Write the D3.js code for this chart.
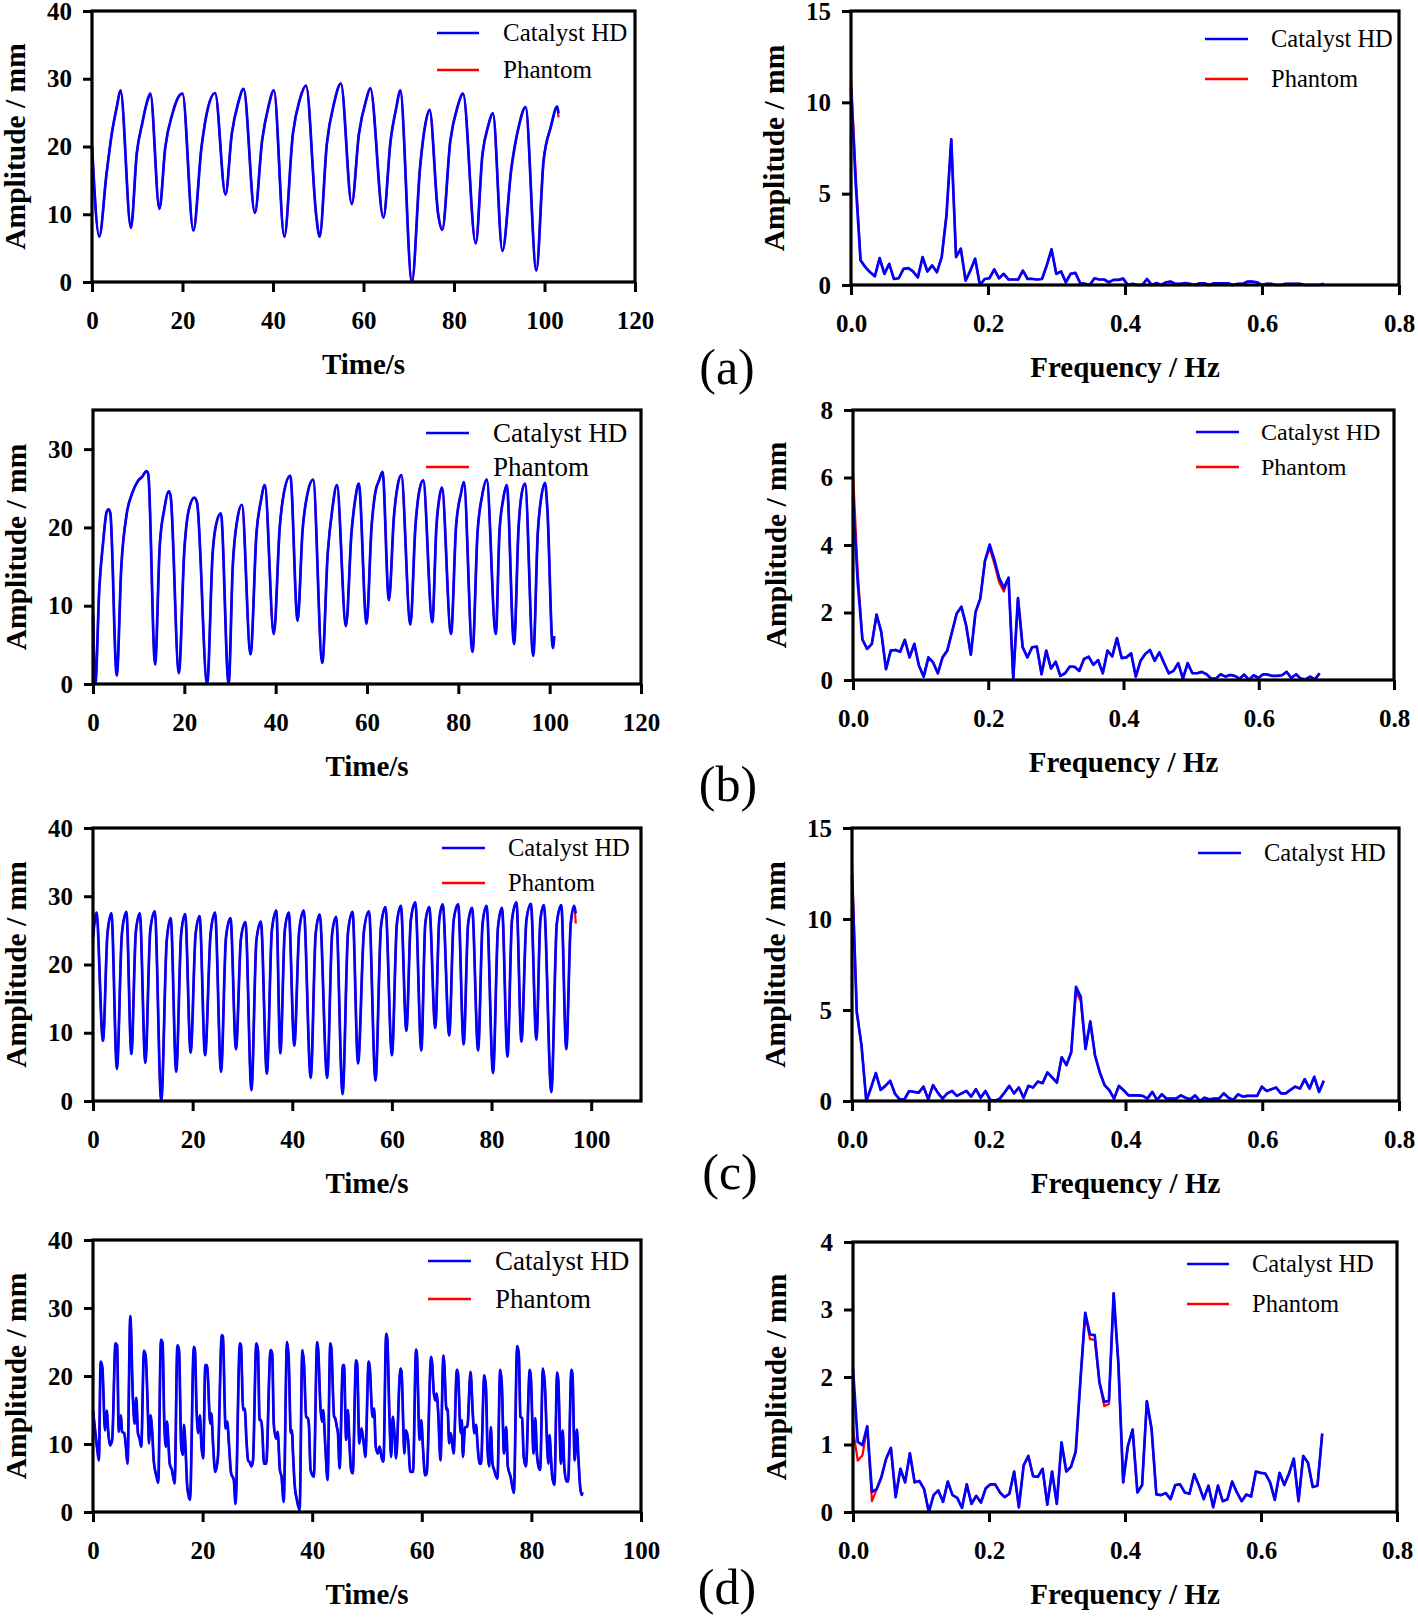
<!DOCTYPE html>
<html>
<head>
<meta charset="utf-8">
<script src="https://cdn.jsdelivr.net/npm/d3@7/dist/d3.min.js"></script>
<style>
  body { margin: 0; background: #fff; }
  svg text { font-family: "Liberation Serif", "Times New Roman", serif; fill: #000; }
</style>
</head>
<body>
<svg id="fig" width="1418" height="1617"></svg>
<script>
// ---------- tick values ----------
const timeTicks120 = [0, 20, 40, 60, 80, 100, 120];
const timeTicks100 = [0, 20, 40, 60, 80, 100];
const freqTicks = [0, 0.2, 0.4, 0.6, 0.8];
const ampTicks40 = [0, 10, 20, 30, 40];
const ampTicks35 = [0, 10, 20, 30];
const specTicks15 = [0, 5, 10, 15];
const specTicks8 = [0, 2, 4, 6, 8];
const specTicks4 = [0, 1, 2, 3, 4];

// ---------- (a) time series, [time s, amplitude mm] ----------
const catalystA = [[0,20.1],[1.6,6.7],[3.2,15.9],[4.4,22],[5.5,25.9],[6.3,28.3],[8.6,8.0],[9.9,19],[11.1,23.4],[12.3,26.9],[12.9,27.8],
  [14.9,10.8],[16.2,19.9],[17.8,24.9],[19.4,27.6],[20,27.8],[22.4,7.6],[24.2,19.9],[25.7,25.9],[27.2,27.9],[29.5,12.9],[30.9,21.9],
  [32.3,26.4],[33.5,28.5],[36,10.2],[37.6,20.9],[39,25.9],[40.2,28.3],[42.5,6.7],[44.4,21.9],[45.9,26.9],[47.3,29],[49.6,9.5],
  [50.3,6.7],[51.9,20.4],[53.5,26.4],[55,29.3],[57.4,11.5],[59,21.9],[60.6,26.9],[61.5,28.6],[64.4,9.5],[66,20.9],[67.3,25.9],
  [68.1,28.3],[70.7,0],[72.5,16.9],[73.7,23.4],[74.6,25.4],[76.5,10.0],[77.4,7.7],[79.2,20.9],[80.8,25.9],[82,27.8],[84.8,5.7],
  [86.3,18.9],[87.5,22.9],[88.6,24.9],[90.7,4.6],[92.7,16.9],[94.3,22.9],[95.8,25.8],[98.2,1.7],[99.8,17.9],[101.4,22.9],
  [102.8,25.9],[103.1,24.9]];
const phantomEditsA = [[103.1, 24.3]];

// ---------- (b) time series ----------
const catalystB = [[0,8.9],[0.5,0],[1.4,12.4],[2.2,18],[3.0,22],[3.4,22.3],[3.8,21.8],[5.2,1.1],[6.2,15],[7.4,21.8],[8.6,24.4],
  [9.8,25.9],[10.8,26.5],[11.7,27.2],[12.1,26.8],[13.6,2.5],[14.6,17.5],[15.6,22.3],[16.6,24.6],[17.0,24],[18.8,1.4],[20,17.1],
  [21,22.3],[22.2,23.8],[22.8,23.1],[25,0],[26.2,16.7],[27,20.5],[28,21.8],[29.7,0],[30.6,15],[31.6,21],[32.6,22.9],[34.5,3.8],
  [35.8,19.3],[36.8,23.5],[37.6,25.4],[39.6,6.4],[40.9,20.1],[41.8,24.4],[43.2,26.6],[44.8,8.1],[45.9,19.7],[47,24.4],[48.2,26.1],
  [50.2,2.7],[51.4,16.7],[52.4,22.3],[53.4,25.4],[55.4,7.4],[56.6,19.3],[57.4,23.5],[58.2,25.6],[59.9,7.7],[61,20.1],[61.8,24.4],
  [62.7,26.1],[63.4,27.1],[64.8,10.7],[65.9,21.4],[66.7,25.3],[67.5,26.7],[69.5,7.6],[70.6,20.1],[71.5,24.8],[72.3,26],[74.3,7.9],
  [75.2,20.1],[75.9,24],[76.4,25.1],[78.4,6.4],[79.5,20.1],[80.6,24.4],[81.2,25.8],[83.1,4.1],[84.2,19.3],[85.2,24],[86.2,26.1],
  [88.2,6.4],[89,19.3],[89.8,23.5],[90.6,25.4],[92.2,5.1],[93.2,20.1],[93.9,24.4],[94.6,25.6],[96.4,3.6],[97.4,19.3],[98.2,24],
  [99,25.7],[99.5,22.3],[100.7,4.6],[101,6.1]];
const phantomEditsB = [[0, 10]];

// ---------- (c) time series ----------
const catalystC = [[0,24],[0.7,27.6],[2.0,8.8],[2.9,24.5],[3.7,27.5],[4.8,4.7],[5.8,24.5],[6.7,27.7],[7.7,6.9],[8.6,24.8],[9.4,27.5],
  [10.5,5.6],[11.5,25],[12.4,27.8],[13.7,0],[14.8,23.5],[15.6,26.8],[16.7,4.3],[17.7,24.5],[18.5,27.4],[19.6,7.1],[20.6,24.5],
  [21.4,27.1],[22.5,6.7],[23.6,24.5],[24.5,27.6],[25.7,4.3],[26.7,24],[27.6,26.8],[28.7,7.6],[29.7,23.8],[30.6,26.2],[31.8,1.6],
  [32.8,23.5],[33.7,26.3],[34.9,4.0],[35.9,25],[36.8,27.9],[37.6,7.0],[38.5,25],[39.3,27.6],[40.4,8.1],[41.4,25],[42.3,27.9],
  [43.7,3.4],[44.7,24.5],[45.5,27.3],[47.0,3.4],[48.0,24.5],[48.8,27],[50.1,1.0],[51.2,24.8],[52.1,27.7],[53.2,5.5],[54.4,25],
  [55.4,27.8],[56.7,3.0],[57.8,25.5],[58.7,28.4],[60.0,6.7],[61.0,26],[61.8,28.6],[62.9,10.3],[63.8,26.5],[64.7,29.1],[65.9,7.4],
  [66.7,26],[67.5,28.4],[68.7,10.7],[69.5,26.5],[70.2,28.8],[71.5,9.6],[72.4,26.5],[73.3,28.8],[74.4,8.3],[75.3,26],[76.1,28.3],
  [77.3,7.4],[78.2,26],[79.0,28.6],[80.3,4.1],[81.3,25.5],[82.1,28.3],[83.2,6.5],[84.1,26.5],[85.0,29.1],[86.0,8.7],[87.0,26.5],
  [87.9,28.9],[89.0,9.0],[89.8,26.5],[90.5,28.7],[92.0,1.3],[93.1,26],[94.0,28.7],[95.0,7.6],[95.9,26],[96.6,28.6],[96.9,27.5]];
const phantomEditsC = [[96.9, 26]];

// ---------- (d) time series ----------
const catalystD = [[0,15],[0.8,9.1],[1.07,7.6],[1.4,22.1],[1.7,21.3],[2.2,12],[2.5,14.9],[2.8,11.6],[3.1,9.8],[3.5,10.6],[4.1,24.8],
  [4.4,24.5],[4.7,11.8],[5.1,14.2],[5.3,11.8],[5.7,11.6],[6.0,9.6],[6.3,7.1],[6.8,28.8],[7.3,16.4],[7.6,13],[7.9,16.8],[8.2,11.6],
  [8.5,10.8],[8.8,9.6],[9.3,23.7],[9.6,23],[10.1,12.5],[10.2,10.1],[10.5,14.2],[10.8,11.8],[11.1,7.4],[11.6,5.2],[11.9,4.3],
  [12.4,25.3],[12.7,24.8],[13.0,13.5],[13.3,9.6],[13.5,13.3],[13.8,9.6],[14.0,7.1],[14.4,6.2],[14.9,4.2],[15.4,24.5],[15.7,23.8],
  [16.1,9.6],[16.4,8.4],[16.6,12.8],[16.9,9.1],[17.2,3.7],[17.7,1.8],[18.4,24.3],[18.6,23.8],[18.9,15],[19.2,11.6],[19.5,14.2],
  [19.8,9.6],[20.1,7.9],[20.5,21.6],[20.8,21.6],[21.4,13],[21.6,14.5],[21.9,10.1],[22.3,5.9],[22.8,8.1],[23.5,26],[23.7,25.8],
  [24.2,12.3],[24.5,13.3],[24.8,10.1],[25.2,5.7],[25.7,4.7],[26.0,1.2],[26.8,24.8],[27.0,24.5],[27.4,15],[27.7,15.2],[28.0,10.6],
  [28.3,7.6],[28.6,7.3],[28.9,6.7],[29.2,7.6],[29.8,24.8],[30.1,23.8],[30.4,13.5],[30.7,13.5],[30.9,11.8],[31.2,7.1],[31.6,7.1],
  [32.4,23.8],[32.7,23.3],[33.0,12.8],[33.4,10.8],[33.7,11.8],[34.1,6.2],[34.4,5.2],[34.8,1.5],[35.4,25],[35.7,22.8],[36.1,11.6],
  [36.3,12],[36.5,8.6],[36.8,4],[37.2,1.8],[37.7,0.3],[38.2,23.8],[38.5,21.8],[38.9,14],[39.2,13.8],[39.4,12.8],[39.7,6.2],
  [40.3,5.2],[40.9,25],[41.1,23.8],[41.5,15.5],[41.8,13.3],[42.0,15],[42.4,9.6],[42.8,4.7],[43.3,24.8],[43.5,24],[44.0,14],
  [44.2,13.8],[44.5,12.5],[44.7,11.6],[45.0,6.4],[45.6,21.6],[45.8,21.6],[46.2,10.6],[46.5,15],[46.8,10.1],[47.1,6.2],[47.4,5.7],
  [48.0,22.3],[48.2,21.8],[48.6,10.1],[49.0,12.3],[49.4,10.1],[49.7,8.1],[50.3,22.1],[50.5,21.3],[51.0,14],[51.3,15.2],[51.6,9.6],
  [52.0,8.6],[52.3,9.6],[52.7,7.9],[53.0,7.4],[53.5,26.2],[53.7,25.5],[54.1,14],[54.4,8.1],[54.7,14],[55.0,11.6],[55.3,7.9],
  [56.1,21.1],[56.3,20.6],[56.7,10.6],[56.8,8.6],[57.1,12],[57.5,10.6],[57.9,5.9],[58.4,5.9],[58.95,23.9],[59.1,23.3],[59.6,10.6],
  [59.9,13.5],[60.2,9.6],[60.6,5.4],[60.9,5.7],[61.7,22.8],[61.9,21.8],[62.2,17.4],[62.5,16.4],[62.7,17.4],[63.0,14.5],[63.4,7.6],
  [63.95,23],[64.1,21.8],[64.5,15],[64.7,15.2],[65.0,10.1],[65.3,11.6],[65.8,8.6],[66.4,20.9],[66.6,20.4],[67.1,11.6],[67.3,13.5],
  [67.5,8.1],[67.9,12.5],[68.3,12.5],[68.9,20.6],[69.3,14.5],[69.6,11.6],[69.9,12.8],[70.2,9.6],[70.5,7.1],[70.8,7.1],[71.4,20.1],
  [71.7,18.4],[72.0,9.1],[72.3,6.7],[72.6,12.5],[72.9,7.1],[73.2,6.2],[73.8,4.9],[74.3,20.9],[74.6,18.8],[75.0,8.6],[75.4,12.5],
  [75.7,6.7],[76.2,5.2],[76.8,2.8],[77.4,24.4],[77.7,23.3],[78.0,14],[78.3,13.8],[78.6,8.1],[79.0,6.7],[79.7,20.9],[79.9,19.8],
  [80.4,8.6],[80.7,13.8],[81.0,8.6],[81.3,6.7],[81.6,6.2],[82.1,21.1],[82.4,19.4],[83.1,7.1],[83.3,11.3],[83.6,7.6],[83.8,5.2],
  [84.2,4],[84.7,20.5],[84.9,19.4],[85.4,7.1],[85.7,12],[86.0,6.7],[86.4,4.5],[86.7,4.5],[87.3,20.9],[87.5,20.2],[87.9,7.6],
  [88.3,12.1],[88.6,7.6],[88.9,3.7],[89.2,2.5],[89.3,2.9]];
const phantomEditsD = [];

// ---------- spectra: amplitude per frequency bin ----------
const freqStep = 0.00697; // Hz between bins
const spectrumA = [10.8,5.5,1.35,0.98,0.7,0.48,1.47,0.61,1.16,0.33,0.37,0.88,0.92,0.74,0.41,1.53,0.74,1.07,0.7,1.53,
  3.83,7.98,1.53,1.99,0.24,0.79,1.44,0,0.33,0.37,0.85,0.37,0.61,0.3,0.3,0.3,0.79,0.33,0.33,0.3,
  0.33,1.07,1.95,0.61,0.74,0.15,0.61,0.66,0.11,0.06,0,0.37,0.3,0.3,0.15,0.28,0.28,0.35,0,0.06,
  0,0,0.33,0,0.11,0,0.15,0.18,0.06,0.06,0.11,0.06,0,0.09,0.09,0,0.09,0.09,0.09,0.09,
  0,0.06,0.06,0.18,0.18,0.15,0,0.06,0.06,0,0,0.06,0.06,0.06,0.06,0,0,0,0,0.06];
const spectrumEditsA = [[0, 11.4], [1, 6.0]];

const spectrumB = [5.41,2.9,1.2,0.92,1.07,1.94,1.42,0.32,0.87,0.89,0.84,1.19,0.67,1.07,0.42,0.1,0.67,0.52,0.2,0.67,
  0.87,1.42,1.97,2.17,1.62,0.75,2.01,2.41,3.53,4.01,3.56,3.03,2.73,3.03,0.04,2.43,0.97,0.67,0.97,0.99,
  0.17,0.87,0.34,0.54,0.12,0.2,0.4,0.39,0.27,0.62,0.69,0.45,0.59,0.2,0.87,0.7,1.24,0.65,0.67,0.79,
  0.1,0.57,0.77,0.89,0.57,0.82,0.5,0.2,0.27,0.5,0.04,0.5,0.2,0.2,0.24,0.17,0.04,0.04,0.17,0.1,
  0.15,0.12,0.04,0.16,0,0.14,0.06,0.17,0.16,0.12,0.12,0.14,0.24,0.06,0.17,0.04,0.02,0.1,0.02,0.2];
const spectrumEditsB = [[0, 6.15], [1, 3.2], [29, 3.9], [30, 3.45], [31, 2.9], [32, 2.62]];

const spectrumC = [12.45,4.89,3.04,0,0.74,1.53,0.61,0.83,1.11,0.41,0.09,0.09,0.55,0.5,0.46,0.79,0.09,0.87,0.46,0.13,
  0.42,0.55,0.28,0.42,0.55,0.24,0.65,0.18,0.55,0.06,0,0.13,0.46,0.83,0.42,0.74,0.18,0.83,0.74,1.07,
  0.98,1.57,1.29,1.01,2.4,1.97,2.68,6.27,5.72,2.86,4.37,2.49,1.57,0.87,0.59,0.13,0.83,0.59,0.31,0.31,
  0.31,0.28,0.13,0.5,0.06,0.37,0.13,0.13,0.13,0.31,0.18,0.09,0.31,0,0.18,0.09,0.13,0.13,0.42,0.18,
  0.06,0.37,0.24,0.28,0.28,0.28,0.79,0.55,0.65,0.74,0.42,0.42,0.61,0.79,0.68,1.2,0.68,1.33,0.5,1.11];
const spectrumEditsC = [[0, 13.05], [47, 6.0], [48, 5.5]];

const spectrumD = [2.12,1.04,0.99,1.27,0.3,0.34,0.52,0.79,0.95,0.22,0.64,0.44,0.87,0.44,0.46,0.34,0,0.25,0.32,0.15,
  0.45,0.25,0.21,0.06,0.41,0.12,0.24,0.14,0.35,0.41,0.41,0.29,0.22,0.27,0.6,0.07,0.69,0.83,0.53,0.52,
  0.64,0.11,0.6,0.12,1.03,0.6,0.67,0.9,1.97,2.95,2.63,2.62,1.92,1.63,1.65,3.24,2.19,0.44,0.98,1.22,
  0.29,0.4,1.64,1.23,0.26,0.25,0.28,0.19,0.4,0.41,0.29,0.27,0.56,0.39,0.19,0.39,0.07,0.39,0.16,0.19,
  0.45,0.29,0.16,0.26,0.23,0.6,0.58,0.57,0.44,0.18,0.58,0.4,0.57,0.79,0.16,0.83,0.73,0.37,0.39,1.16];
const spectrumEditsD = [[0, 1.23], [1, 0.76], [2, 0.84], [4, 0.16], [50, 2.56], [51, 2.55], [53, 1.57], [54, 1.6]];

const seriesNames = ['Catalyst HD', 'Phantom'];
const panelLetters = ['(a)', '(b)', '(c)', '(d)'];

// ---------- helpers ----------
const BLUE = '#0000ff', RED = '#ff0000';
const svg = d3.select('#fig');

// Phantom curve: same samples as Catalyst HD except where the red trace is visibly different
function editTime(points, edits) {
  const m = new Map(edits);
  return points.map(d => m.has(d[0]) ? [d[0], m.get(d[0])] : d);
}
function spectrumPoints(values, edits) {
  const m = new Map(edits || []);
  return values.map((v, i) => [i * freqStep, m.has(i) ? m.get(i) : v]);
}

function drawPanel(p) {
  const g = svg.append('g');
  const x = d3.scaleLinear().domain(p.xDomain).range([p.x0, p.x1]);
  const y = d3.scaleLinear().domain(p.yDomain).range([p.y1, p.y0]);

  const line = d3.line().x(d => x(d[0])).y(d => y(d[1])).curve(p.curve);
  g.append('path').datum(p.phantom).attr('d', line)
    .attr('fill', 'none').attr('stroke', RED).attr('stroke-width', 2.2).attr('stroke-linejoin', 'round');
  g.append('path').datum(p.catalyst).attr('d', line)
    .attr('fill', 'none').attr('stroke', BLUE).attr('stroke-width', 2.7).attr('stroke-linejoin', 'round');

  // axes
  const xAxis = g.append('g').attr('transform', `translate(0,${p.y1})`)
    .call(d3.axisBottom(x).tickValues(p.xTicks).tickFormat(p.xFmt).tickSize(10).tickSizeOuter(0).tickPadding(19));
  const yAxis = g.append('g').attr('transform', `translate(${p.x0},0)`)
    .call(d3.axisLeft(y).tickValues(p.yTicks).tickFormat(d3.format('d')).tickSize(9).tickSizeOuter(0).tickPadding(11));
  [xAxis, yAxis].forEach(a => {
    a.selectAll('.domain').remove();
    a.selectAll('line').attr('stroke', '#000').attr('stroke-width', 3);
    a.selectAll('text').attr('font-size', 25).attr('font-weight', 'bold')
      .attr('font-family', '"Liberation Serif", serif').attr('fill', '#000');
  });

  // frame
  g.append('rect').attr('x', p.x0).attr('y', p.y0)
    .attr('width', p.x1 - p.x0).attr('height', p.y1 - p.y0)
    .attr('fill', 'none').attr('stroke', '#000').attr('stroke-width', 3.2);

  // titles
  g.append('text').attr('x', (p.x0 + p.x1) / 2).attr('y', p.y1 + 92)
    .attr('text-anchor', 'middle').attr('font-size', 29).attr('font-weight', 'bold').text(p.xTitle);
  g.append('text')
    .attr('transform', `translate(${p.x0 - 67},${(p.y0 + p.y1) / 2}) rotate(-90)`)
    .attr('text-anchor', 'middle').attr('font-size', 29.5).attr('font-weight', 'bold').text('Amplitude / mm');

  // legend
  const L = p.legend;
  L.names.forEach((name, i) => {
    const ly = L.ys[i];
    g.append('line').attr('x1', L.lx0).attr('x2', L.lx1).attr('y1', ly).attr('y2', ly)
      .attr('stroke', i === 0 ? BLUE : RED).attr('stroke-width', 2.4);
    g.append('text').attr('x', L.tx).attr('y', ly + L.size * 0.33)
      .attr('font-size', L.size).text(name);
  });
}

const timeFmt = d3.format('d');
const freqFmt = d3.format('.1f');

const panels = [
  { x0: 92, x1: 635, y0: 11, y1: 282, xDomain: [0, 120], yDomain: [0, 40], xTicks: timeTicks120, yTicks: ampTicks40,
    xFmt: timeFmt, xTitle: 'Time/s', curve: d3.curveMonotoneX,
    catalyst: catalystA, phantom: editTime(catalystA, phantomEditsA),
    legend: { names: seriesNames, lx0: 437, lx1: 479, ys: [33, 70], tx: 503, size: 25 } },
  { x0: 851, x1: 1399, y0: 11, y1: 285, xDomain: [0, 0.8], yDomain: [0, 15], xTicks: freqTicks, yTicks: specTicks15,
    xFmt: freqFmt, xTitle: 'Frequency / Hz', curve: d3.curveLinear,
    catalyst: spectrumPoints(spectrumA), phantom: spectrumPoints(spectrumA, spectrumEditsA),
    legend: { names: seriesNames, lx0: 1205, lx1: 1248, ys: [39, 79], tx: 1271, size: 24.5 } },
  { x0: 93, x1: 641, y0: 410, y1: 684, xDomain: [0, 120], yDomain: [0, 35], xTicks: timeTicks120, yTicks: ampTicks35,
    xFmt: timeFmt, xTitle: 'Time/s', curve: d3.curveMonotoneX,
    catalyst: catalystB, phantom: editTime(catalystB, phantomEditsB),
    legend: { names: seriesNames, lx0: 426, lx1: 469, ys: [433, 467], tx: 493, size: 27 } },
  { x0: 853, x1: 1394, y0: 410, y1: 680, xDomain: [0, 0.8], yDomain: [0, 8], xTicks: freqTicks, yTicks: specTicks8,
    xFmt: freqFmt, xTitle: 'Frequency / Hz', curve: d3.curveLinear,
    catalyst: spectrumPoints(spectrumB), phantom: spectrumPoints(spectrumB, spectrumEditsB),
    legend: { names: seriesNames, lx0: 1196, lx1: 1239, ys: [432, 467], tx: 1261, size: 24 } },
  { x0: 93, x1: 641, y0: 828, y1: 1101, xDomain: [0, 110], yDomain: [0, 40], xTicks: timeTicks100, yTicks: ampTicks40,
    xFmt: timeFmt, xTitle: 'Time/s', curve: d3.curveMonotoneX,
    catalyst: catalystC, phantom: editTime(catalystC, phantomEditsC),
    legend: { names: seriesNames, lx0: 442, lx1: 485, ys: [848, 883], tx: 508, size: 24.5 } },
  { x0: 852, x1: 1399, y0: 828, y1: 1101, xDomain: [0, 0.8], yDomain: [0, 15], xTicks: freqTicks, yTicks: specTicks15,
    xFmt: freqFmt, xTitle: 'Frequency / Hz', curve: d3.curveLinear,
    catalyst: spectrumPoints(spectrumC), phantom: spectrumPoints(spectrumC, spectrumEditsC),
    legend: { names: seriesNames.slice(0, 1), lx0: 1198, lx1: 1241, ys: [853], tx: 1264, size: 24.5 } },
  { x0: 93, x1: 641, y0: 1240, y1: 1512, xDomain: [0, 100], yDomain: [0, 40], xTicks: timeTicks100, yTicks: ampTicks40,
    xFmt: timeFmt, xTitle: 'Time/s', curve: d3.curveMonotoneX,
    catalyst: catalystD, phantom: editTime(catalystD, phantomEditsD),
    legend: { names: seriesNames, lx0: 428, lx1: 471, ys: [1261, 1299], tx: 495, size: 27 } },
  { x0: 853, x1: 1397, y0: 1242, y1: 1512, xDomain: [0, 0.8], yDomain: [0, 4], xTicks: freqTicks, yTicks: specTicks4,
    xFmt: freqFmt, xTitle: 'Frequency / Hz', curve: d3.curveLinear,
    catalyst: spectrumPoints(spectrumD), phantom: spectrumPoints(spectrumD, spectrumEditsD),
    legend: { names: seriesNames, lx0: 1187, lx1: 1229, ys: [1264, 1304], tx: 1252, size: 24.5 } }
];

panels.forEach(drawPanel);

// row letters between the columns
const letterPos = [[727, 384], [728, 801], [730, 1189], [727, 1604]];
svg.selectAll('text.letter').data(panelLetters).enter().append('text')
  .attr('class', 'letter')
  .attr('x', (d, i) => letterPos[i][0]).attr('y', (d, i) => letterPos[i][1])
  .attr('text-anchor', 'middle').attr('font-size', 50)
  .text(d => d);
</script>
</body>
</html>
